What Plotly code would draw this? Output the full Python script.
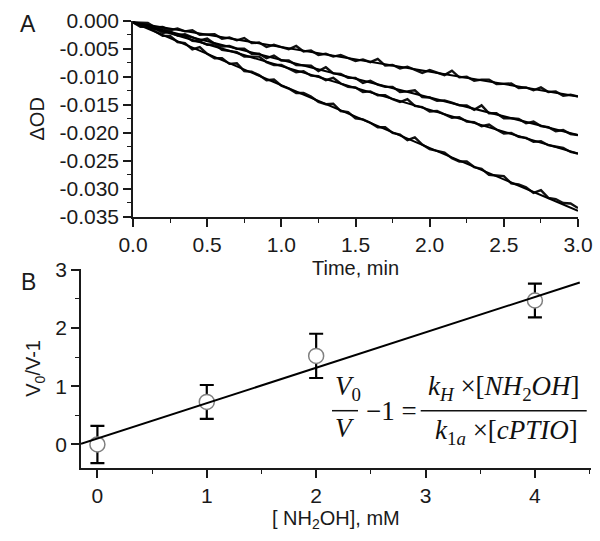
import plotly.graph_objects as go

# ---------------- Panel A data ----------------
time_min = [0.00, 0.05, 0.10, 0.15, 0.20, 0.25, 0.30, 0.35, 0.40, 0.45,
            0.50, 0.55, 0.60, 0.65, 0.70, 0.75, 0.80, 0.85, 0.90, 0.95,
            1.00, 1.05, 1.10, 1.15, 1.20, 1.25, 1.30, 1.35, 1.40, 1.45,
            1.50, 1.55, 1.60, 1.65, 1.70, 1.75, 1.80, 1.85, 1.90, 1.95,
            2.00, 2.05, 2.10, 2.15, 2.20, 2.25, 2.30, 2.35, 2.40, 2.45,
            2.50, 2.55, 2.60, 2.65, 2.70, 2.75, 2.80, 2.85, 2.90, 2.95,
            3.00]

od_trace1 = [-0.0003, -0.0004, -0.0004, -0.0012, -0.0011, -0.0017, -0.0014, -0.0019, -0.0017, -0.0025,
             -0.0025, -0.0024, -0.0032, -0.0030, -0.0035, -0.0031, -0.0040, -0.0039, -0.0047, -0.0043,
             -0.0047, -0.0051, -0.0045, -0.0055, -0.0053, -0.0061, -0.0059, -0.0064, -0.0061, -0.0067,
             -0.0072, -0.0069, -0.0074, -0.0068, -0.0080, -0.0079, -0.0085, -0.0082, -0.0087, -0.0093,
             -0.0088, -0.0092, -0.0097, -0.0089, -0.0101, -0.0100, -0.0107, -0.0105, -0.0105, -0.0113,
             -0.0113, -0.0112, -0.0120, -0.0119, -0.0124, -0.0119, -0.0127, -0.0126, -0.0134, -0.0132,
             -0.0135]

od_trace2 = [-0.0003, -0.0007, -0.0008, -0.0015, -0.0013, -0.0020, -0.0026, -0.0024, -0.0029, -0.0035,
             -0.0032, -0.0041, -0.0046, -0.0045, -0.0050, -0.0050, -0.0059, -0.0059, -0.0067, -0.0062,
             -0.0071, -0.0071, -0.0079, -0.0080, -0.0080, -0.0090, -0.0083, -0.0094, -0.0095, -0.0102,
             -0.0102, -0.0111, -0.0107, -0.0114, -0.0118, -0.0118, -0.0127, -0.0126, -0.0124, -0.0136,
             -0.0137, -0.0143, -0.0142, -0.0146, -0.0151, -0.0151, -0.0159, -0.0151, -0.0165, -0.0165,
             -0.0174, -0.0174, -0.0175, -0.0183, -0.0180, -0.0188, -0.0190, -0.0197, -0.0195, -0.0202,
             -0.0204]

od_trace3 = [-0.0003, -0.0005, -0.0012, -0.0014, -0.0022, -0.0020, -0.0026, -0.0027, -0.0036, -0.0037,
             -0.0043, -0.0042, -0.0052, -0.0054, -0.0056, -0.0064, -0.0064, -0.0064, -0.0074, -0.0079,
             -0.0079, -0.0085, -0.0092, -0.0090, -0.0098, -0.0099, -0.0106, -0.0102, -0.0112, -0.0118,
             -0.0119, -0.0127, -0.0126, -0.0133, -0.0133, -0.0140, -0.0145, -0.0140, -0.0152, -0.0154,
             -0.0162, -0.0161, -0.0167, -0.0173, -0.0172, -0.0180, -0.0181, -0.0188, -0.0185, -0.0194,
             -0.0201, -0.0200, -0.0207, -0.0209, -0.0216, -0.0215, -0.0222, -0.0225, -0.0227, -0.0234,
             -0.0237]

od_trace4 = [-0.0003, -0.0011, -0.0011, -0.0019, -0.0027, -0.0027, -0.0038, -0.0040, -0.0051, -0.0047,
             -0.0059, -0.0067, -0.0067, -0.0077, -0.0076, -0.0090, -0.0091, -0.0097, -0.0106, -0.0105,
             -0.0116, -0.0121, -0.0129, -0.0129, -0.0135, -0.0145, -0.0149, -0.0148, -0.0161, -0.0163,
             -0.0174, -0.0176, -0.0182, -0.0190, -0.0190, -0.0200, -0.0203, -0.0213, -0.0208, -0.0221,
             -0.0229, -0.0232, -0.0235, -0.0245, -0.0251, -0.0251, -0.0261, -0.0264, -0.0275, -0.0276,
             -0.0277, -0.0290, -0.0292, -0.0297, -0.0307, -0.0302, -0.0316, -0.0318, -0.0325, -0.0326,
             -0.0334]

fit_time = [0.0, 3.0]
fit1 = [-0.0003, -0.0135]
fit2 = [-0.0003, -0.0204]
fit3 = [-0.0003, -0.0237]
fit4 = [-0.0003, -0.0339]

a_xticks = [0.0, 0.5, 1.0, 1.5, 2.0, 2.5, 3.0]
a_xtext = ["0.0", "0.5", "1.0", "1.5", "2.0", "2.5", "3.0"]
a_yticks = [0.000, -0.005, -0.010, -0.015, -0.020, -0.025, -0.030, -0.035]
a_ytext = ["0.000", "-0.005", "-0.010", "-0.015", "-0.020", "-0.025", "-0.030", "-0.035"]

# ---------------- Panel B data ----------------
nh2oh_mM = [0, 1, 2, 4]
v_ratio = [0.00, 0.73, 1.52, 2.47]
v_err = [0.32, 0.29, 0.38, 0.29]
fitB_x = [-0.15, 4.41]
fitB_y = [0.01, 2.78]

b_xticks = [0, 1, 2, 3, 4]
b_yticks = [0, 1, 2, 3]

W, H = 600, 541
FONT = "Liberation Sans, Arial, sans-serif"
SERIF = "Liberation Serif, Times New Roman, serif"
AXC = "#1a1a1a"

def px(x):
    return x / W

def py(y):
    return 1 - y / H

fig = go.Figure()

for tr in (od_trace1, od_trace2, od_trace3, od_trace4):
    fig.add_trace(go.Scatter(x=time_min, y=tr, mode="lines",
                             line=dict(color="#111111", width=2.4),
                             xaxis="x", yaxis="y", showlegend=False))
for ft in (fit1, fit2, fit3, fit4):
    fig.add_trace(go.Scatter(x=fit_time, y=ft, mode="lines",
                             line=dict(color="black", width=2),
                             xaxis="x", yaxis="y", showlegend=False))

fig.add_trace(go.Scatter(x=nh2oh_mM, y=v_ratio, mode="markers",
                         marker=dict(symbol="circle", size=15, color="white",
                                     line=dict(color="#808080", width=1.5)),
                         error_y=dict(type="data", array=v_err, visible=True,
                                      color="black", thickness=2.2, width=7),
                         xaxis="x2", yaxis="y2", showlegend=False))
fig.add_trace(go.Scatter(x=fitB_x, y=fitB_y, mode="lines",
                         line=dict(color="black", width=2),
                         xaxis="x2", yaxis="y2", showlegend=False))

axis_common = dict(showline=True, linecolor=AXC, linewidth=1.6, ticks="outside",
                   ticklen=8, tickwidth=1.6, tickcolor=AXC, showgrid=False,
                   zeroline=False, mirror=False, automargin=False,
                   tickfont=dict(family=FONT, size=21, color=AXC))

minor_common = dict(ticks="outside", ticklen=4, tickwidth=1.4, tickcolor=AXC,
                    tickmode="linear", tick0=0, showgrid=False)

title_font = dict(family=FONT, size=20, color=AXC)

fig.update_layout(
    template="none",
    width=W, height=H,
    margin=dict(l=0, r=0, t=0, b=0, pad=0),
    paper_bgcolor="white", plot_bgcolor="white",
    font=dict(family=FONT, size=20, color=AXC),
    xaxis=dict(domain=[px(133), px(578)], anchor="y", range=[0, 3],
               tickmode="array", tickvals=a_xticks, ticktext=a_xtext,
               minor=dict(dtick=0.25, **minor_common),
               title=dict(text="Time, min", font=title_font, standoff=6),
               **axis_common),
    yaxis=dict(domain=[py(217), py(20.7)], anchor="x", range=[-0.035, 0],
               tickmode="array", tickvals=a_yticks, ticktext=a_ytext,
               minor=dict(dtick=0.0025, **minor_common),
               title=dict(text="ΔOD", font=title_font, standoff=9),
               **axis_common),
    xaxis2=dict(domain=[px(81), px(590.7)], anchor="y2", range=[-0.15, 4.51],
                tickmode="array", tickvals=b_xticks,
                minor=dict(dtick=0.5, **minor_common),
                title=dict(text="[ NH<sub>2</sub>OH], mM", font=title_font, standoff=5),
                **axis_common),
    yaxis2=dict(domain=[py(468.3), py(268.5)], anchor="x2", range=[-0.41, 3.02],
                tickmode="array", tickvals=b_yticks,
                minor=dict(dtick=0.5, **minor_common),
                title=dict(text="V<sub>0</sub>/V-1", font=title_font, standoff=9),
                **axis_common),
)

def note(text, x, y, font):
    fig.add_annotation(text=text, x=px(x), y=py(y), xref="paper", yref="paper",
                       xanchor="center", yanchor="middle", showarrow=False, font=font)

# panel letters
note("A", 28, 24, dict(family=FONT, size=23, color=AXC))
note("B", 28, 282, dict(family=FONT, size=23, color=AXC))

# equation
eq_font = dict(family=SERIF, size=27, color="#111111")
note("<i>V</i><sub>0</sub>", 348, 388, eq_font)
note("<i>V</i>", 345, 428, eq_font)
note("−1 =", 391.5, 411, eq_font)
note("<i>k</i><sub><i>H</i></sub> ×[<i>NH</i><sub>2</sub><i>OH</i>]", 504, 388, eq_font)
note("<i>k</i><sub>1<i>a</i></sub> ×[<i>cPTIO</i>]", 506, 432, eq_font)

fig.add_shape(type="line", xref="paper", yref="paper",
              x0=px(332), x1=px(358), y0=py(410.7), y1=py(410.7),
              line=dict(color="#111111", width=1.5))
fig.add_shape(type="line", xref="paper", yref="paper",
              x0=px(420.7), x1=px(586.7), y0=py(410.7), y1=py(410.7),
              line=dict(color="#111111", width=1.5))

fig.write_html("out.html", config={"displayModeBar": False},
               post_script="document.body.style.margin='0';")
